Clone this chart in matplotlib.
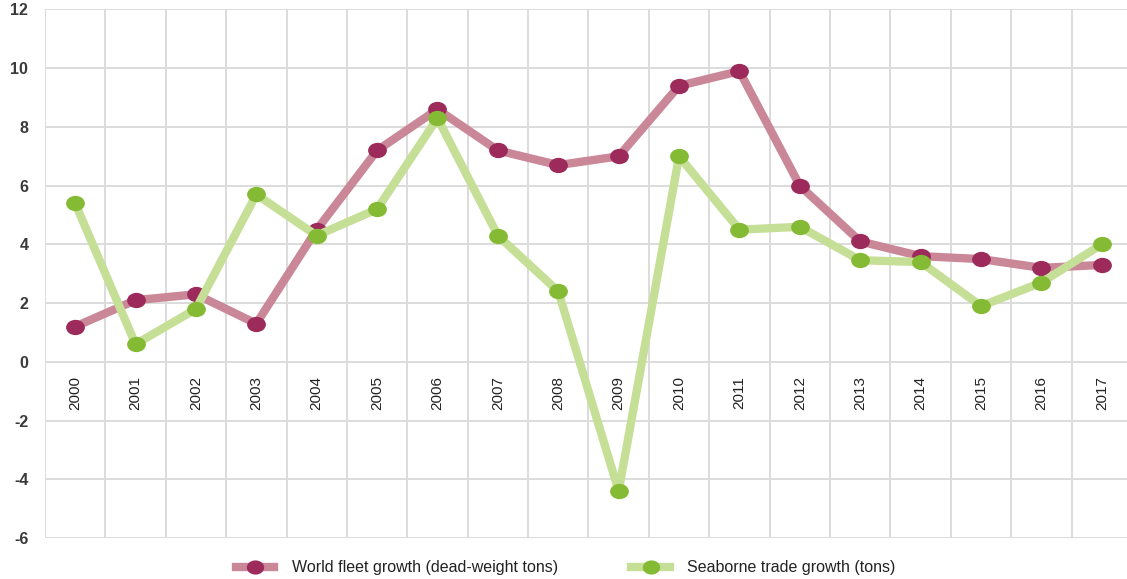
import matplotlib
matplotlib.use("Agg")
import matplotlib.pyplot as plt
from matplotlib.path import Path
from matplotlib.lines import Line2D
import matplotlib.transforms as mtransforms

years = [str(y) for y in range(2000, 2018)]
fleet_growth = [1.2, 2.1, 2.3, 1.3, 4.5, 7.2, 8.6, 7.2, 6.7, 7.0,
                9.4, 9.9, 6.0, 4.1, 3.6, 3.5, 3.2, 3.3]
trade_growth = [5.4, 0.6, 1.8, 5.7, 4.3, 5.2, 8.3, 4.3, 2.4, -4.4,
                7.0, 4.5, 4.6, 3.46, 3.4, 1.9, 2.7, 4.0]
y_ticks = list(range(-6, 13, 2))

plt.rcParams['font.family'] = ['Liberation Sans', 'DejaVu Sans']

red_line, red_dot = '#c98797', '#9c2a5b'
green_line, green_dot = '#c6df97', '#85ba34'

# slightly flattened dot marker
ellipse = Path.unit_circle().transformed(mtransforms.Affine2D().scale(1.25, 1.0))

fig = plt.figure(figsize=(11.27, 5.79), dpi=100)
ax = fig.add_axes([0.0399, 0.0708, 0.9645, 0.9128])

x = list(range(len(years)))
ax.plot(x, fleet_growth, color=red_line, lw=6, solid_capstyle='round', zorder=3)
ax.plot(x, fleet_growth, ls='none', marker=ellipse, ms=12.5, color=red_dot, zorder=4)
ax.plot(x, trade_growth, color=green_line, lw=6, solid_capstyle='round', zorder=5)
ax.plot(x, trade_growth, ls='none', marker=ellipse, ms=12.5, color=green_dot, zorder=6)

ax.set_xlim(-0.5, len(years) - 0.5)
ax.set_ylim(-6, 12)
ax.set_yticks(y_ticks)
ax.set_yticklabels([str(v) for v in y_ticks], fontsize=11.5, color='#3a3a3a',
                   fontweight='bold')
ax.set_xticks([i - 0.5 for i in range(len(years) + 1)])
ax.set_xticklabels([])
ax.tick_params(length=0, pad=12)
ax.grid(True, color='#dcdcdc', lw=1.4, zorder=0)
for s in ax.spines.values():
    s.set_visible(False)

# year labels sit just under the zero line
for i, yr in enumerate(years):
    ax.text(i, -1.05, yr, rotation=90, ha='center', va='center',
            fontsize=11, color='#222222', zorder=2)

handles = [
    Line2D([], [], color=red_line, lw=6, marker=ellipse, ms=11.5,
           markerfacecolor=red_dot, markeredgecolor=red_dot),
    Line2D([], [], color=green_line, lw=6, marker=ellipse, ms=11.5,
           markerfacecolor=green_dot, markeredgecolor=green_dot),
]
fig.legend(handles, ['World fleet growth (dead-weight tons)', 'Seaborne trade growth (tons)'],
           loc='center', bbox_to_anchor=(0.502, 0.019), ncol=2, frameon=False,
           fontsize=11.5, handlelength=2.4, handletextpad=1.1, columnspacing=4.6,
           labelcolor='#222222')

fig.savefig('out.png', dpi=100)
